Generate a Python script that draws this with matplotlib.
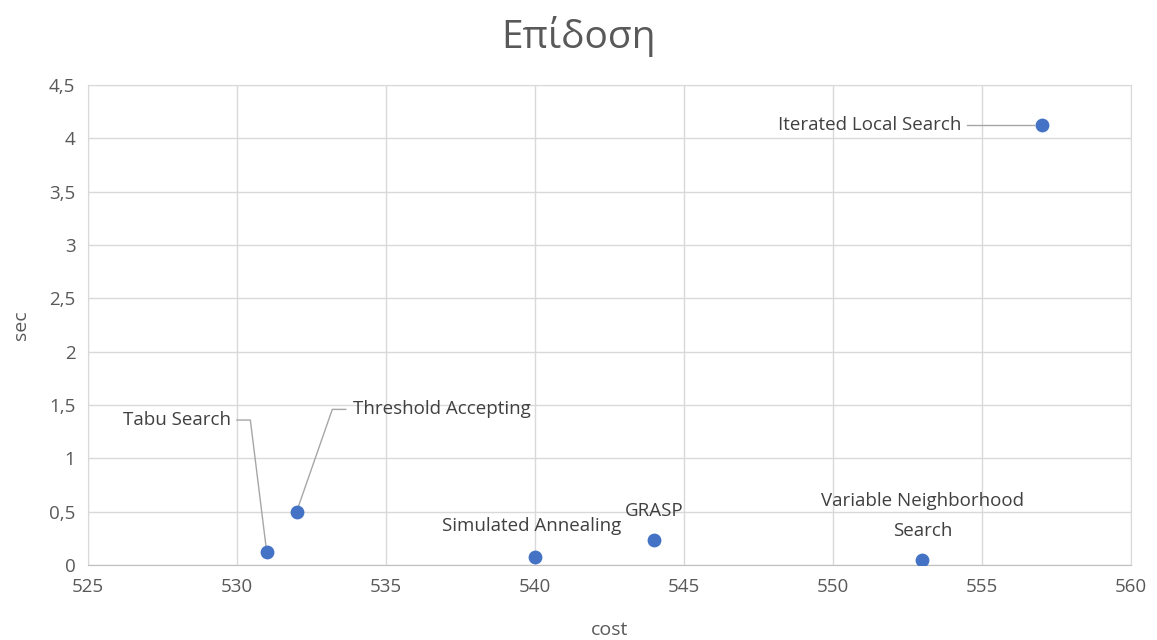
import matplotlib.pyplot as plt
from matplotlib.ticker import FuncFormatter

# data
methods = ['Tabu Search', 'Threshold Accepting', 'Simulated Annealing', 'GRASP',
           'Variable Neighborhood\nSearch', 'Iterated Local Search']
cost = [531, 532, 540, 544, 553, 557]
sec = [0.12, 0.50, 0.08, 0.24, 0.05, 4.13]

# label positions (data coords)
label_x = [529.8, 533.9, 539.9, 544.0, 553.0, 554.3]
label_y = [1.36, 1.46, 0.37, 0.51, 0.46, 4.13]
label_ha = ['right', 'left', 'center', 'center', 'center', 'right']
leader = [True, True, False, False, False, True]

plt.rcParams['font.family'] = ['Open Sans', 'DejaVu Sans']
gray = '#595959'

fig = plt.figure(figsize=(11.57, 6.4), dpi=100)
ax = fig.add_axes([0.076, 0.117, 0.9015, 0.75])

ax.scatter(cost, sec, s=80, color='#4472C4', zorder=3)

ax.set_xlim(525, 560)
ax.set_ylim(0, 4.5)
ax.set_xticks(range(525, 561, 5))
ax.set_yticks([i * 0.5 for i in range(10)])
ax.yaxis.set_major_formatter(FuncFormatter(lambda v, p: ('%g' % v).replace('.', ',')))
ax.grid(True, color='#d9d9d9', linewidth=1)
ax.set_axisbelow(True)
for s in ax.spines.values():
    s.set_color('#d9d9d9')
ax.spines['bottom'].set_color('#bfbfbf')
ax.tick_params(length=0, labelsize=13.5, colors=gray, pad=9)

ax.set_xlabel('cost', fontsize=14, color=gray, labelpad=18)
ax.set_ylabel('sec', fontsize=14, color=gray, labelpad=14)
fig.suptitle('Επίδοση', fontsize=28, color=gray, y=0.975)

for i, m in enumerate(methods):
    ax.text(label_x[i], label_y[i], m, ha=label_ha[i], va='center',
            fontsize=13.5, color='#404040', linespacing=1.8)
    if leader[i]:
        if label_ha[i] == 'right':
            x0 = label_x[i] + 0.2
            if i == 0:
                xs, ys = [x0, x0 + 0.45, cost[i]], [label_y[i], label_y[i], sec[i]]
            else:
                xs, ys = [x0, cost[i] - 0.25], [label_y[i], sec[i]]
        else:
            x0 = label_x[i] - 0.25
            xs, ys = [x0, x0 - 0.45, cost[i]], [label_y[i], label_y[i], sec[i]]
        ax.plot(xs, ys, color='#a6a6a6', linewidth=1, zorder=2)

fig.savefig('out.png', dpi=100)
